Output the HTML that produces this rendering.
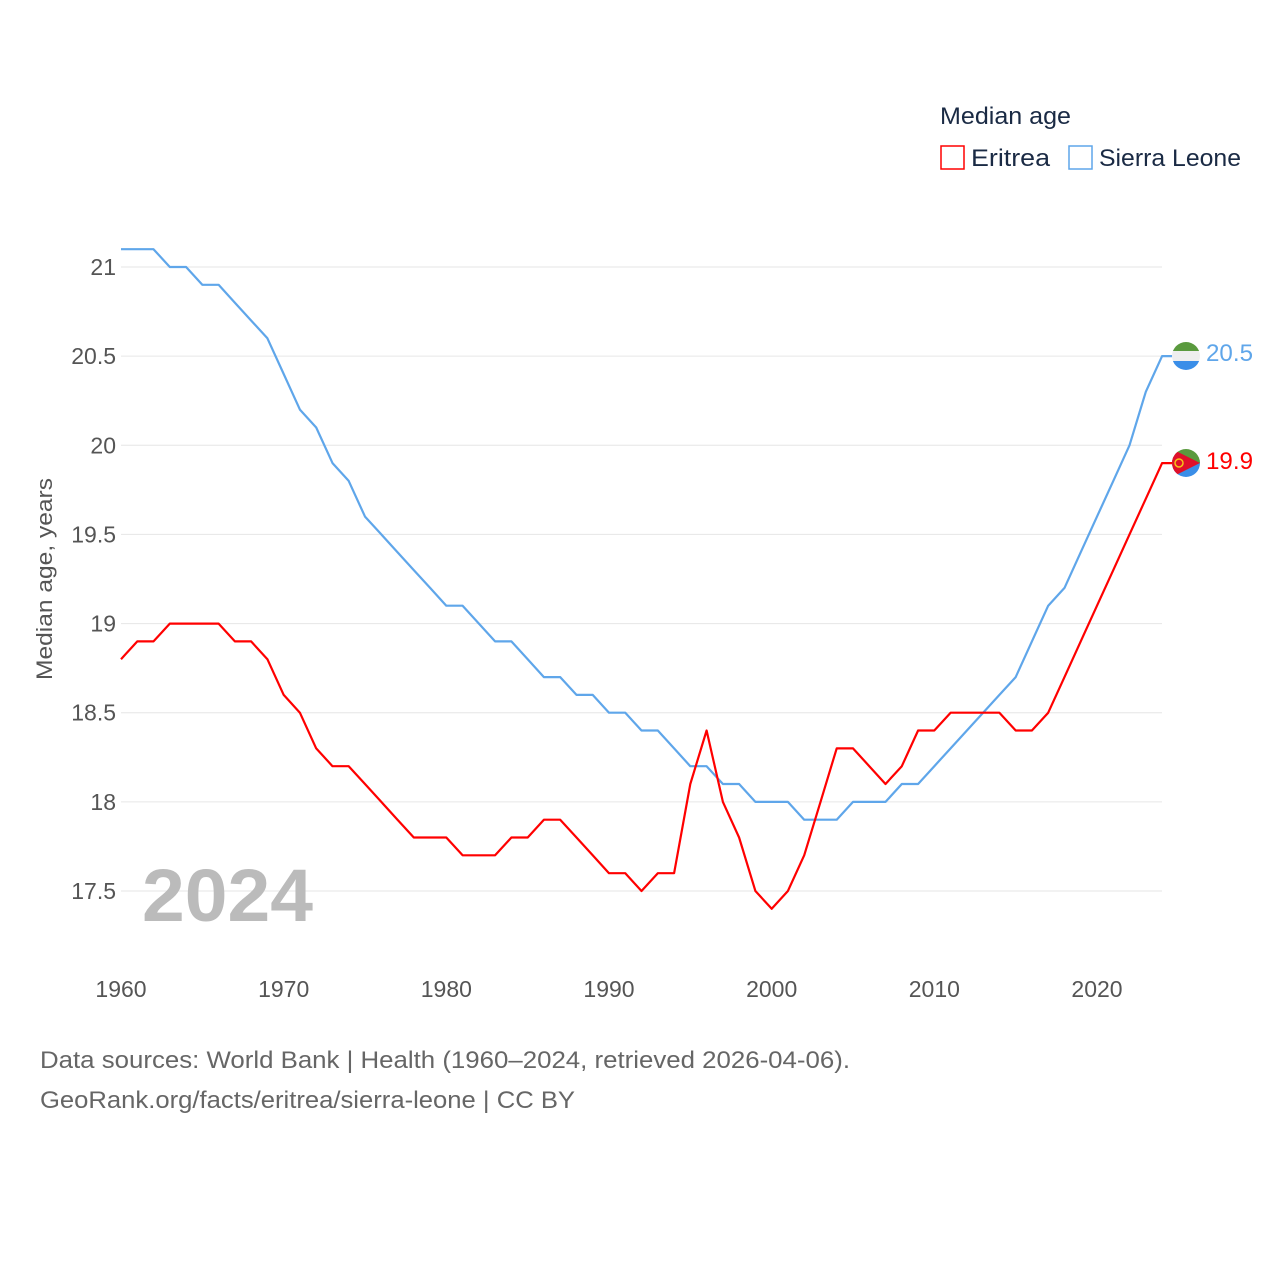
<!DOCTYPE html>
<html><head><meta charset="utf-8"><style>
body{margin:0;background:#fff;font-family:"Liberation Sans",sans-serif;}
</style></head><body>
<svg width="1280" height="1280" xmlns="http://www.w3.org/2000/svg" font-family="Liberation Sans, sans-serif">
<g id="grid"></g>
<g id="yt" font-size="23" fill="#555" text-anchor="end"></g>
<g id="xt" font-size="23" fill="#555" text-anchor="middle"></g>
<text x="52" y="579" transform="rotate(-90 52 579)" text-anchor="middle" font-size="22" fill="#555" textLength="202" lengthAdjust="spacingAndGlyphs">Median age, years</text>
<text x="142" y="921" font-size="74" font-weight="bold" fill="#bbb" textLength="171" lengthAdjust="spacingAndGlyphs">2024</text>
<g id="lines"></g>
<g>
<text x="940" y="124" font-size="24" fill="#1a2a44" textLength="131" lengthAdjust="spacingAndGlyphs">Median age</text>
<g><rect x="941" y="146" width="23" height="23" fill="none" stroke="#f00" stroke-width="1.5"/><text x="971" y="166" font-size="24" fill="#1a2a44" textLength="79" lengthAdjust="spacingAndGlyphs">Eritrea</text></g>
<g><rect x="1069" y="146" width="23" height="23" fill="none" stroke="#5fa6ea" stroke-width="1.5"/><text x="1099" y="166" font-size="24" fill="#1a2a44" textLength="142" lengthAdjust="spacingAndGlyphs">Sierra Leone</text></g>
</g>
<defs><clipPath id="c1"><circle cx="1186" cy="356" r="14"/></clipPath><clipPath id="c2"><circle cx="1186" cy="463" r="14"/></clipPath></defs>
<g clip-path="url(#c1)"><rect x="1170" y="340" width="32" height="11" fill="#5a9a3e"/><rect x="1170" y="351" width="32" height="10" fill="#eee"/><rect x="1170" y="361" width="32" height="12" fill="#3a8ee8"/></g>
<g clip-path="url(#c2)"><rect x="1170" y="447" width="32" height="16" fill="#5a9a3e"/><rect x="1170" y="463" width="32" height="16" fill="#3a8ee8"/><polygon points="1172,449 1200,463 1172,477" fill="#e0102a"/><circle cx="1179" cy="463" r="4" fill="none" stroke="#f5c518" stroke-width="1.5"/></g>
<text x="1206" y="361" font-size="24" fill="#5fa6ea" textLength="47" lengthAdjust="spacingAndGlyphs">20.5</text>
<text x="1206" y="469" font-size="24" fill="#f00" textLength="47" lengthAdjust="spacingAndGlyphs">19.9</text>
<text x="40" y="1068" font-size="24" fill="#666" textLength="810" lengthAdjust="spacingAndGlyphs">Data sources: World Bank | Health (1960–2024, retrieved 2026-04-06).</text>
<text x="40" y="1108" font-size="24" fill="#666" textLength="535" lengthAdjust="spacingAndGlyphs">GeoRank.org/facts/eritrea/sierra-leone | CC BY</text>
</svg>
<script>
const years=[];for(let y=1960;y<=2024;y++)years.push(y);
const sierraLeone=[21.1,21.1,21.1,21.0,21.0,20.9,20.9,20.8,20.7,20.6,20.4,20.2,20.1,19.9,19.8,19.6,19.5,19.4,19.3,19.2,19.1,19.1,19.0,18.9,18.9,18.8,18.7,18.7,18.6,18.6,18.5,18.5,18.4,18.4,18.3,18.2,18.2,18.1,18.1,18.0,18.0,18.0,17.9,17.9,17.9,18.0,18.0,18.0,18.1,18.1,18.2,18.3,18.4,18.5,18.6,18.7,18.9,19.1,19.2,19.4,19.6,19.8,20.0,20.3,20.5];
const eritrea=[18.8,18.9,18.9,19.0,19.0,19.0,19.0,18.9,18.9,18.8,18.6,18.5,18.3,18.2,18.2,18.1,18.0,17.9,17.8,17.8,17.8,17.7,17.7,17.7,17.8,17.8,17.9,17.9,17.8,17.7,17.6,17.6,17.5,17.6,17.6,18.1,18.4,18.0,17.8,17.5,17.4,17.5,17.7,18.0,18.3,18.3,18.2,18.1,18.2,18.4,18.4,18.5,18.5,18.5,18.5,18.4,18.4,18.5,18.7,18.9,19.1,19.3,19.5,19.7,19.9];
const yTicks=[17.5,18,18.5,19,19.5,20,20.5,21];
const xTicks=[1960,1970,1980,1990,2000,2010,2020];
const X=y=>121+(y-1960)*(1097-121)/60;
const Y=v=>267+(21-v)*(891-267)/3.5;
const NS="http://www.w3.org/2000/svg";
const mk=(t,a)=>{const e=document.createElementNS(NS,t);for(const k in a)e.setAttribute(k,a[k]);return e;};
const grid=document.getElementById('grid'),yt=document.getElementById('yt'),xt=document.getElementById('xt');
yTicks.forEach(v=>{
 const l=mk('line',{x1:121,x2:1162,y1:Y(v),y2:Y(v),stroke:'#e6e6e6'});
 
 
 grid.appendChild(l);
 const t=mk('text',{x:116,y:Y(v)+8});t.textContent=String(v);
 
 
 yt.appendChild(t);
});
xTicks.forEach(v=>{
 const t=mk('text',{x:X(v),y:997});t.textContent=String(v);
 
 
 xt.appendChild(t);
});
const lines=document.getElementById('lines');
function draw(vals,color,name){
 let d=vals.map((v,i)=>(i?'L':'M')+X(years[i]).toFixed(1)+' '+Y(v).toFixed(1)).join(' ');
 d+=' L'+(X(2024)+10)+' '+Y(vals[vals.length-1]).toFixed(1);
 const p=mk('path',{d:d,fill:'none',stroke:color,'stroke-width':2.2,'stroke-linejoin':'round'});
 
 
 lines.appendChild(p);
}
draw(sierraLeone,'#5fa6ea','sierra-leone-line');
draw(eritrea,'#f00','eritrea-line');
</script>
</body></html>
